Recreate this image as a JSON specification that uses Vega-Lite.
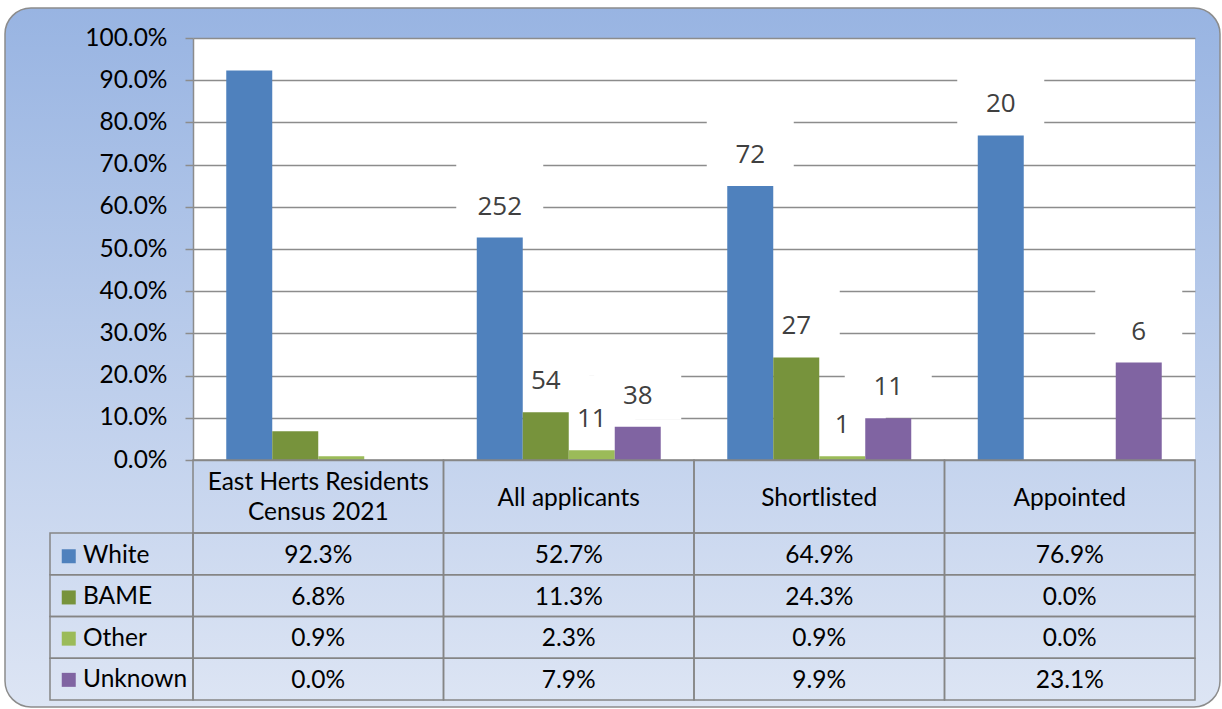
{
  "$schema": "https://vega.github.io/schema/vega-lite/v6.json",
  "width": 1215,
  "height": 699,
  "autosize": {"type": "none"},
  "padding": {"left": 5, "top": 8, "right": 2, "bottom": 2},
  "background": "white",
  "view": {
    "fill": {"expr": "{gradient: 'linear', x1: 0, y1: 0, x2: 0, y2: 1, stops: [{offset: 0, color: '#98B4E2'}, {offset: 1, color: '#DDE5F4'}]}"},
    "stroke": "#8C8C8C",
    "strokeWidth": 1.5,
    "cornerRadius": 26
  },
  "datasets": {
    "main": [
      {"cat": "East Herts Residents\nCensus 2021", "group": "White", "value": 0.923, "count": null},
      {"cat": "East Herts Residents\nCensus 2021", "group": "BAME", "value": 0.068, "count": null},
      {"cat": "East Herts Residents\nCensus 2021", "group": "Other", "value": 0.009, "count": null},
      {"cat": "East Herts Residents\nCensus 2021", "group": "Unknown", "value": 0.0, "count": null},
      {"cat": "All applicants", "group": "White", "value": 0.527, "count": 252},
      {"cat": "All applicants", "group": "BAME", "value": 0.113, "count": 54},
      {"cat": "All applicants", "group": "Other", "value": 0.023, "count": 11},
      {"cat": "All applicants", "group": "Unknown", "value": 0.079, "count": 38},
      {"cat": "Shortlisted", "group": "White", "value": 0.649, "count": 72},
      {"cat": "Shortlisted", "group": "BAME", "value": 0.243, "count": 27},
      {"cat": "Shortlisted", "group": "Other", "value": 0.009, "count": 1},
      {"cat": "Shortlisted", "group": "Unknown", "value": 0.099, "count": 11},
      {"cat": "Appointed", "group": "White", "value": 0.769, "count": 20},
      {"cat": "Appointed", "group": "BAME", "value": 0.0, "count": null},
      {"cat": "Appointed", "group": "Other", "value": 0.0, "count": null},
      {"cat": "Appointed", "group": "Unknown", "value": 0.231, "count": 6}
    ]
  },
  "data": {"name": "main"},
  "config": {"font": "Lato"},
  "layer": [
    {
      "encoding": {
        "x": {
          "field": "cat", "type": "nominal",
          "scale": {"type": "band", "domain": ["East Herts Residents\nCensus 2021", "All applicants", "Shortlisted", "Appointed"], "range": [188, 1190], "paddingInner": 0, "paddingOuter": 0},
          "axis": {"orient": "top", "grid": true, "gridColor": "#FFFFFF", "gridWidth": 251, "bandPosition": 0.5, "labels": false, "ticks": false, "domain": false, "title": null}
        },
        "xOffset": {
          "field": "group", "type": "nominal",
          "scale": {"domain": ["White", "BAME", "Other", "Unknown"], "paddingOuter": 0.723, "paddingInner": 0}
        },
        "y": {
          "field": "value", "type": "quantitative",
          "scale": {"domain": [0, 1], "range": [452, 30], "nice": false},
          "axis": {"orient": "left", "offset": -188, "tickCount": 10, "format": ".1%", "tickSize": 8, "labelPadding": 18, "labelOverlap": false, "grid": true, "gridColor": "#8C8C8C", "gridWidth": 1.5, "domainColor": "#8C8C8C", "domainWidth": 1.5, "tickColor": "#8C8C8C", "tickWidth": 1.5, "labelFontSize": 24.5, "labelFont": "Lato", "labelColor": "#000000", "title": null}
        }
      },
      "layer": [
        {
          "transform": [{"filter": "datum.count != null"}],
          "mark": {"type": "point", "shape": "M-1,-0.7816L1,-0.7816L1,0.7816L-1,0.7816Z", "size": 7569, "filled": true, "fill": "#FFFFFF", "opacity": 1, "strokeWidth": 0, "yOffset": -41}
        },
        {
          "mark": {"type": "bar"},
          "encoding": {
            "color": {
              "field": "group", "type": "nominal",
              "scale": {"domain": ["White", "BAME", "Other", "Unknown"], "range": ["#4F81BD", "#77933C", "#9BBB59", "#8064A2"]},
              "legend": {"orient": "none", "legendX": 51.5, "legendY": 536, "direction": "vertical", "title": null, "symbolType": "square", "symbolSize": 196, "symbolStrokeWidth": 0, "labelFontSize": 24.5, "labelFont": "Lato", "labelColor": "#000000", "rowPadding": 16.2, "labelOffset": 2, "padding": 0, "labelLimit": 200}
            }
          }
        },
        {
          "transform": [{"filter": "datum.count != null"}],
          "mark": {"type": "text", "font": "Open Sans", "fontSize": 26, "fill": "#404040", "yOffset": -31, "baseline": "middle"},
          "encoding": {"text": {"field": "count", "type": "quantitative"}}
        }
      ]
    },
    {
      "transform": [{"filter": "datum.group == 'White'"}],
      "encoding": {
        "x": {
          "field": "cat", "type": "nominal",
          "scale": {"type": "band", "domain": ["East Herts Residents\nCensus 2021", "All applicants", "Shortlisted", "Appointed"], "range": [188, 1190], "paddingInner": 0, "paddingOuter": 0},
          "axis": null
        },
        "y": {
          "datum": "header", "type": "nominal",
          "scale": {"type": "band", "domain": ["header"], "range": [452, 525], "paddingInner": 0, "paddingOuter": 0},
          "axis": null
        }
      },
      "layer": [
        {"mark": {"type": "rect", "filled": false, "stroke": "#858585", "strokeWidth": 1.5}},
        {
          "transform": [{"filter": "indexof(datum.cat, '\\n') < 0"}],
          "mark": {"type": "text", "font": "Lato", "fontSize": 24.5, "fill": "#000000", "baseline": "middle", "dy": 2},
          "encoding": {"text": {"field": "cat", "type": "nominal"}}
        },
        {
          "transform": [{"filter": "indexof(datum.cat, '\\n') >= 0"}],
          "mark": {"type": "text", "font": "Lato", "fontSize": 24.5, "fill": "#000000", "lineBreak": "\n", "lineHeight": 30, "baseline": "middle", "dy": -14},
          "encoding": {"text": {"field": "cat", "type": "nominal"}}
        }
      ]
    },
    {
      "encoding": {
        "x": {
          "field": "cat", "type": "nominal",
          "scale": {"type": "band", "domain": ["East Herts Residents\nCensus 2021", "All applicants", "Shortlisted", "Appointed"], "range": [188, 1190], "paddingInner": 0, "paddingOuter": 0},
          "axis": null
        },
        "y": {
          "field": "group", "type": "nominal",
          "scale": {"type": "band", "domain": ["White", "BAME", "Other", "Unknown"], "range": [525, 692], "paddingInner": 0, "paddingOuter": 0},
          "axis": null
        }
      },
      "layer": [
        {"mark": {"type": "rect", "filled": false, "stroke": "#858585", "strokeWidth": 1.5}},
        {
          "mark": {"type": "text", "font": "Lato", "fontSize": 24.5, "fill": "#000000", "baseline": "middle", "dy": 2},
          "encoding": {"text": {"field": "value", "type": "quantitative", "format": ".1%"}}
        }
      ]
    },
    {
      "transform": [{"filter": "datum.cat == 'All applicants'"}],
      "encoding": {
        "x": {
          "datum": "legend", "type": "nominal",
          "scale": {"type": "band", "domain": ["legend"], "range": [45, 188], "paddingInner": 0, "paddingOuter": 0},
          "axis": null
        },
        "y": {
          "field": "group", "type": "nominal",
          "scale": {"type": "band", "domain": ["White", "BAME", "Other", "Unknown"], "range": [525, 692], "paddingInner": 0, "paddingOuter": 0},
          "axis": null
        }
      },
      "mark": {"type": "rect", "filled": false, "stroke": "#858585", "strokeWidth": 1.5}
    }
  ],
  "resolve": {"scale": {"x": "independent", "y": "independent"}}
}
